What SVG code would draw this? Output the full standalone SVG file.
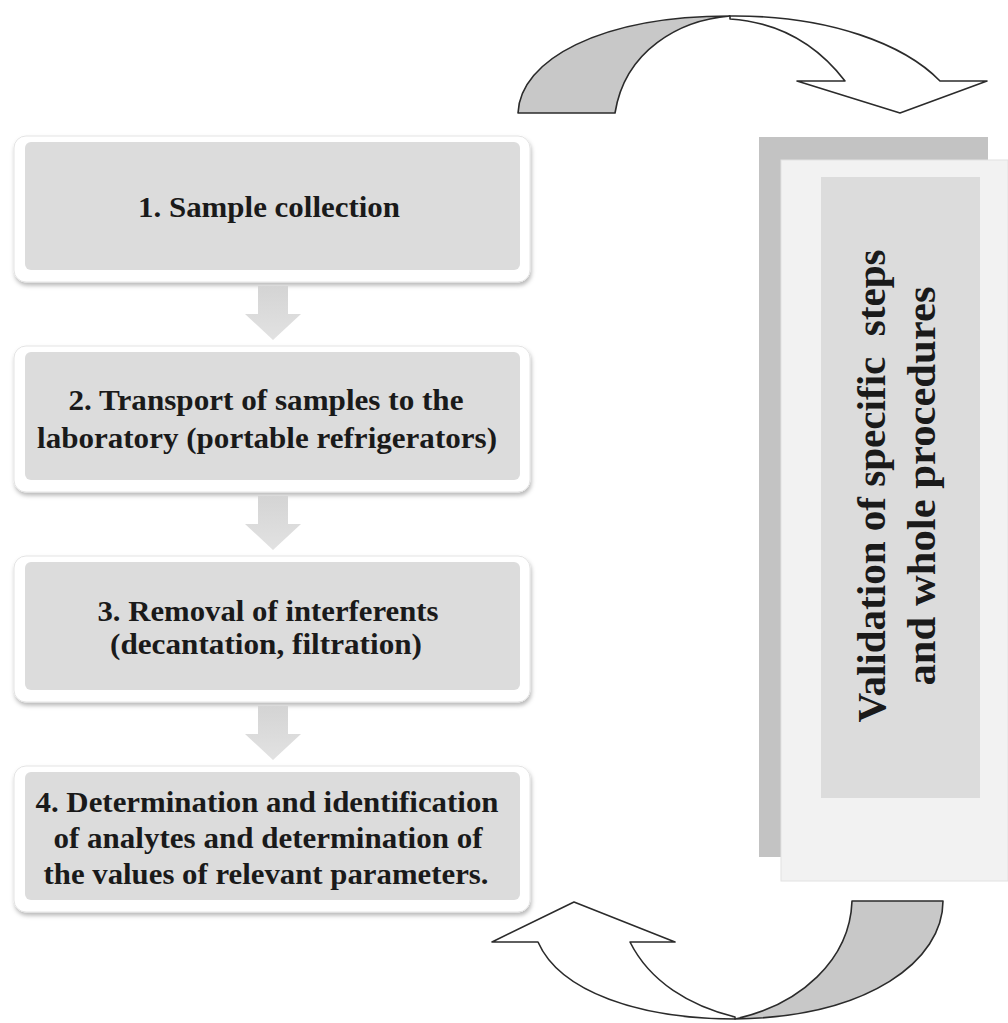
<svg xmlns="http://www.w3.org/2000/svg" width="1008" height="1023" viewBox="0 0 1008 1023">
<defs>
<filter id="sh" x="-5%" y="-10%" width="110%" height="125%">
<feDropShadow dx="1" dy="3" stdDeviation="2.2" flood-color="#000" flood-opacity="0.28"/>
</filter>
<linearGradient id="dg" x1="0" y1="0" x2="0" y2="1">
<stop offset="0" stop-color="#d4d4d4"/>
<stop offset="1" stop-color="#e2e2e2"/>
</linearGradient>
</defs>
<style>
.frame{fill:#fff;stroke:#e4e4e4;stroke-width:1;filter:url(#sh)}
.inner{fill:#dcdcdc}
.t{font-family:"Liberation Serif","Times New Roman",serif;font-weight:bold;font-size:29px;fill:#1a1a1a;text-anchor:middle}
.v{font-family:"Liberation Serif","Times New Roman",serif;font-weight:bold;font-size:41px;fill:#1a1a1a;text-anchor:middle;white-space:pre}
.down{fill:url(#dg)}
.ca{stroke:#2b2b2b;stroke-width:1.6;stroke-linejoin:round}
.g{fill:#c8c8c8}
.w{fill:#fff}
</style>
<rect width="1008" height="1023" fill="#fff"/>

<g id="validation">
<rect x="759" y="137" width="229" height="720" fill="#c3c3c3"/>
<rect x="781" y="160" width="227" height="721" fill="#f2f2f2" stroke="#e2e2e2" stroke-width="1"/>
<rect x="821" y="177" width="159" height="621" fill="#dcdcdc"/>
<text class="v" transform="translate(885,486) rotate(-90)" textLength="473" lengthAdjust="spacingAndGlyphs">Validation of specific  steps</text>
<text class="v" transform="translate(935,486) rotate(-90)" textLength="399" lengthAdjust="spacingAndGlyphs">and whole procedures</text>
</g>

<g id="step1">
<rect class="frame" x="14" y="136" width="516" height="146" rx="12"/>
<rect class="inner" x="25" y="142" width="495" height="128" rx="6"/>
<text class="t" x="269" y="217" textLength="262" lengthAdjust="spacingAndGlyphs">1. Sample collection</text>
</g>

<g id="step2">
<rect class="frame" x="14" y="346" width="516" height="146" rx="12"/>
<rect class="inner" x="25" y="352" width="495" height="128" rx="6"/>
<text class="t" x="266" y="410" textLength="395" lengthAdjust="spacingAndGlyphs">2. Transport of samples to the</text>
<text class="t" x="267" y="448" textLength="460" lengthAdjust="spacingAndGlyphs">laboratory (portable refrigerators)</text>
</g>

<g id="step3">
<rect class="frame" x="14" y="556" width="516" height="146" rx="12"/>
<rect class="inner" x="25" y="562" width="495" height="128" rx="6"/>
<text class="t" x="268" y="621" textLength="341" lengthAdjust="spacingAndGlyphs">3. Removal of interferents</text>
<text class="t" x="266" y="654" textLength="312" lengthAdjust="spacingAndGlyphs">(decantation, filtration)</text>
</g>

<g id="step4">
<rect class="frame" x="14" y="766" width="516" height="146" rx="12"/>
<rect class="inner" x="25" y="772" width="495" height="128" rx="6"/>
<text class="t" x="267" y="812" textLength="463" lengthAdjust="spacingAndGlyphs">4. Determination and identification</text>
<text class="t" x="268" y="848" textLength="429" lengthAdjust="spacingAndGlyphs">of analytes and determination of</text>
<text class="t" x="266" y="884" textLength="445" lengthAdjust="spacingAndGlyphs">the values of relevant parameters.</text>
</g>

<g id="connectors">
<path class="down" d="M258,286 H288 V314 H301 L273,340 L245,314 H258 Z"/>
<path class="down" d="M258,496 H288 V524 H301 L273,550 L245,524 H258 Z"/>
<path class="down" d="M258,706 H288 V734 H301 L273,760 L245,734 H258 Z"/>

<g id="loop-top">
<path class="ca g" d="M518,113 C520,60 600,16 730,16 C680,20 625,50 615,113 Z"/>
<path class="ca w" d="M730,16 C830,15 905,45 940,81 L987,81 L900,113 L797,81 L845,81 C815,42 775,22 730,19 Z"/>
</g>
<g id="loop-bottom">
<path class="ca g" d="M852,901 L943,901 C943,960 870,1017 735,1019 C800,1005 850,960 852,901 Z"/>
<path class="ca w" d="M735,1019 C640,1019 560,992 538,942 L492,942 L574,902 L675,942 L630,942 C650,982 690,1006 735,1017 Z"/>
</g>
</g>
</svg>
